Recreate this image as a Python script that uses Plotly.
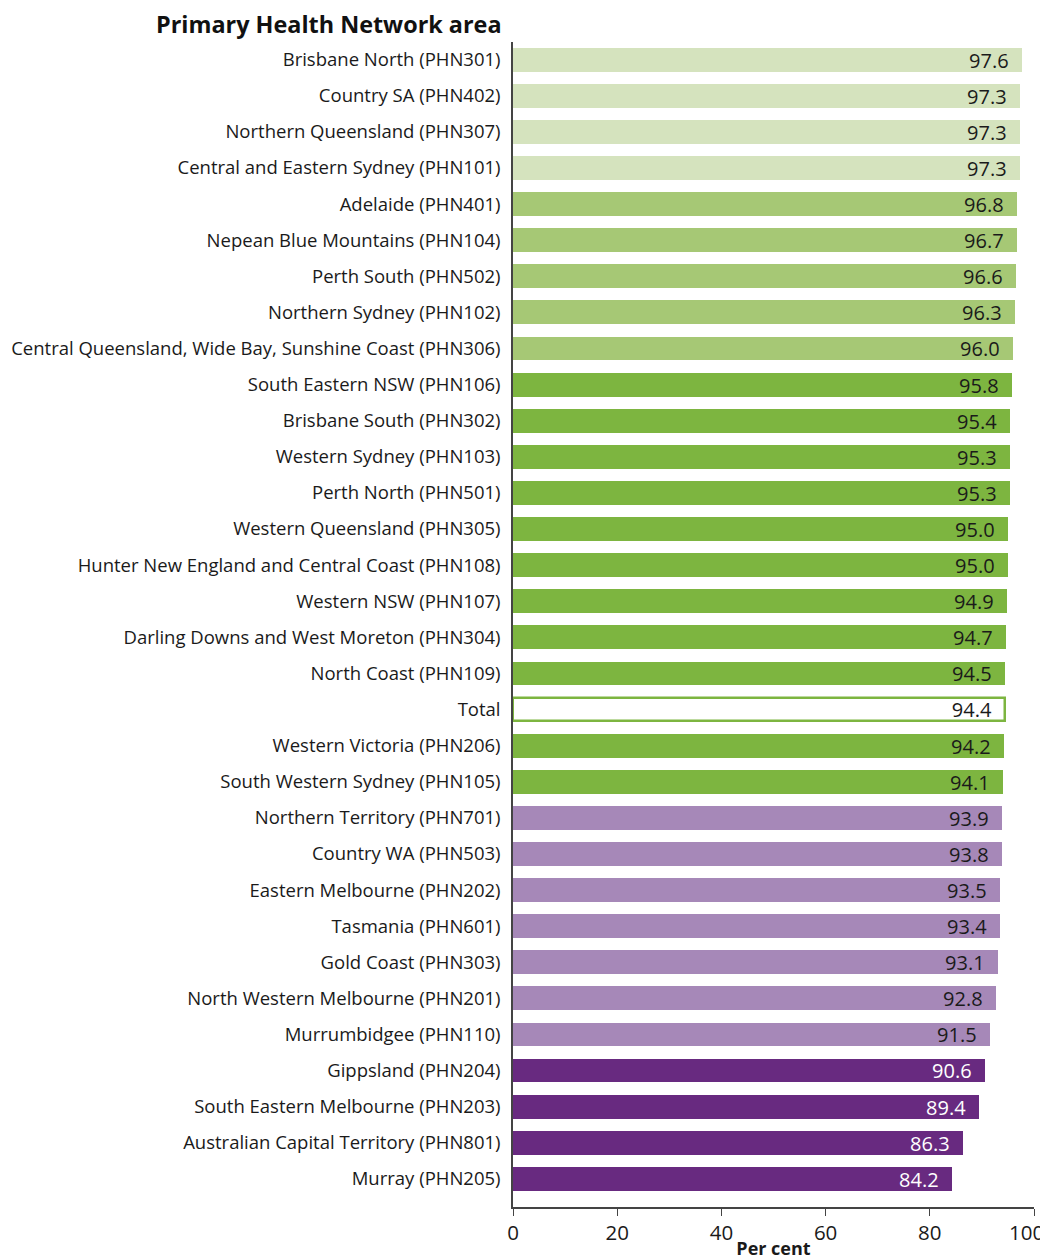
import plotly.graph_objects as go

# PHN areas, top to bottom
areas = [
    "Brisbane North (PHN301)", "Country SA (PHN402)", "Northern Queensland (PHN307)",
    "Central and Eastern Sydney (PHN101)", "Adelaide (PHN401)", "Nepean Blue Mountains (PHN104)",
    "Perth South (PHN502)", "Northern Sydney (PHN102)",
    "Central Queensland, Wide Bay, Sunshine Coast (PHN306)", "South Eastern NSW (PHN106)",
    "Brisbane South (PHN302)", "Western Sydney (PHN103)", "Perth North (PHN501)",
    "Western Queensland (PHN305)", "Hunter New England and Central Coast (PHN108)",
    "Western NSW (PHN107)", "Darling Downs and West Moreton (PHN304)", "North Coast (PHN109)",
    "Total", "Western Victoria (PHN206)", "South Western Sydney (PHN105)",
    "Northern Territory (PHN701)", "Country WA (PHN503)", "Eastern Melbourne (PHN202)",
    "Tasmania (PHN601)", "Gold Coast (PHN303)", "North Western Melbourne (PHN201)",
    "Murrumbidgee (PHN110)", "Gippsland (PHN204)", "South Eastern Melbourne (PHN203)",
    "Australian Capital Territory (PHN801)", "Murray (PHN205)",
]
per_cent = [
    97.6, 97.3, 97.3, 97.3, 96.8, 96.7, 96.6, 96.3, 96.0, 95.8, 95.4, 95.3, 95.3, 95.0, 95.0,
    94.9, 94.7, 94.5, 94.4, 94.2, 94.1, 93.9, 93.8, 93.5, 93.4, 93.1, 92.8, 91.5, 90.6, 89.4,
    86.3, 84.2,
]
# colour band for each bar
band = (["top"] * 4 + ["high"] * 5 + ["mid"] * 9 + ["total"] + ["mid"] * 2
        + ["low"] * 7 + ["bottom"] * 4)

x_ticks = [0, 20, 40, 60, 80, 100]
# the last label is drawn separately (right-aligned) so it is not cut off at the edge
x_tick_text = ["0", "20", "40", "60", "80", ""]
last_tick = "100"

fills = {"top": "#d5e3be", "high": "#a6c875", "mid": "#7db540", "total": "#ffffff",
         "low": "#a688b8", "bottom": "#682a80"}
text_col = {"top": "#1a1a1a", "high": "#1a1a1a", "mid": "#1a1a1a", "total": "#1a1a1a",
            "low": "#1a1a1a", "bottom": "#ffffff"}

fig = go.Figure(go.Bar(
    y=areas, x=per_cent, orientation="h",
    width=0.66,
    marker=dict(color=[fills[b] for b in band],
                line=dict(color=["#7db540" if b == "total" else "rgba(0,0,0,0)" for b in band],
                          width=[2.5 if b == "total" else 0 for b in band])),
    text=[f"{v:.1f}\u00a0\u00a0" for v in per_cent],
    textposition="inside", insidetextanchor="end", textangle=0,
    textfont=dict(size=20, color=[text_col[b] for b in band], family="Open Sans"),
    cliponaxis=False,
    showlegend=False,
))

# page body adds an 8px offset, so the figure is 8px smaller than the window
fig.update_layout(
    width=1040, height=1252,
    margin=dict(l=505, r=14, t=34, b=53),
    plot_bgcolor="white", paper_bgcolor="white",
    font=dict(family="Open Sans", size=18.5, color="#1a1a1a"),
    bargap=0,
    uniformtext=dict(minsize=20, mode="show"),
)
fig.update_yaxes(
    categoryorder="array", categoryarray=areas,
    range=[31.78, -0.49], automargin=False,
    showline=True, linecolor="#444", linewidth=1.5,
    ticks="", ticklabelstandoff=7, tickfont=dict(size=18.5),
    showgrid=False,
)
fig.update_xaxes(
    range=[0, 100], tickvals=x_ticks, ticktext=x_tick_text, automargin=False,
    ticklabeloverflow="allow",
    showline=True, linecolor="#444", linewidth=1.5,
    ticks="outside", ticklen=7, tickcolor="#444",
    tickfont=dict(size=20.5), showgrid=False, zeroline=False,
    title=dict(text="<b>Per cent</b>", font=dict(size=18), standoff=0),
)
fig.add_annotation(
    text=last_tick, xref="x", yref="paper", x=x_ticks[-1], y=0,
    xanchor="right", yanchor="middle", xshift=12, yshift=-25,
    showarrow=False, font=dict(size=20.5, color="#1a1a1a"),
)
fig.add_annotation(
    text="<b>Primary Health Network area</b>", xref="paper", yref="paper",
    x=0, y=1, xanchor="right", yanchor="middle", xshift=-9, yshift=18,
    showarrow=False, font=dict(size=23.4, color="#111"),
)
fig.write_html("out.html")
